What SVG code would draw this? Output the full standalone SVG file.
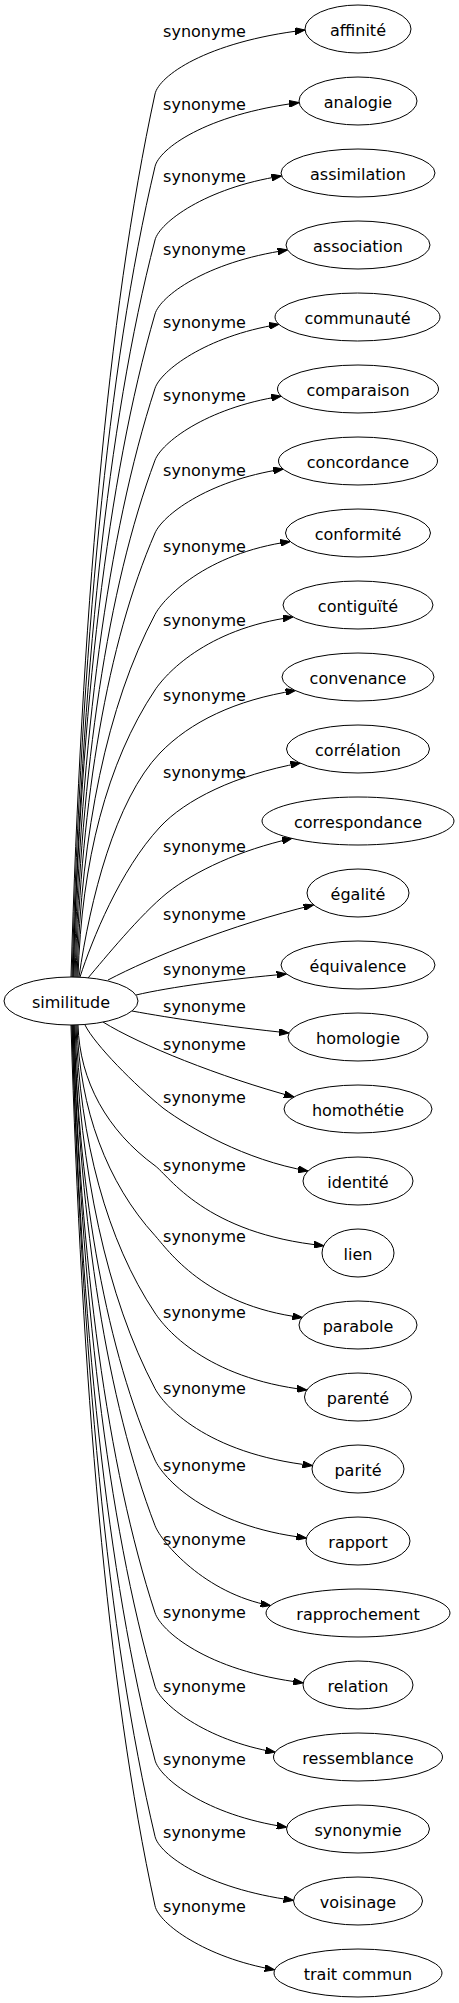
<svg xmlns="http://www.w3.org/2000/svg" width="459" height="2003" viewBox="0 0 459 2003">
<style>
text{font-family:"DejaVu Sans","Liberation Sans",sans-serif;font-size:16px;fill:#000}
.n text,.lbl{text-anchor:middle}
.n ellipse{fill:#fff;stroke:#000;stroke-width:1}
.e path{fill:none;stroke:#000;stroke-width:1;marker-end:url(#arrow)}
</style>
<defs>
<marker id="arrow" markerUnits="userSpaceOnUse" viewBox="0 0 10 7" refX="10" refY="3.5" markerWidth="10" markerHeight="7" orient="auto">
<path d="M0,0 L10,3.5 L0,7 z" fill="#000" stroke="#000" stroke-width="1"/>
</marker>
</defs>
<rect width="459" height="2003" fill="#fff"/>
<g id="connectors" class="e">
<path d="M71,977 C81.6,623.8 107,314.8 155,94 C158.8,76.4 205,42 305,30"/>
<path d="M72,977 C81.7,652.8 107,369.2 155,166.6 C159.1,149.1 205,114.6 299.1,102.6"/>
<path d="M73,977 C81.8,682.2 107,424.3 155,240 C159.5,222.6 205,188 281.5,176"/>
<path d="M73,977 C81,711.8 107,479.8 155,314 C160,296.7 205,262 287.6,250"/>
<path d="M74,977 C81.1,741.5 107,535.5 155,388.3 C160.6,371.2 205,336.3 279,324.3"/>
<path d="M75,977 C81.2,770.3 107,589.4 155,460.2 C161.3,443.3 205,408.2 281.2,396.2"/>
<path d="M76,977 C81.3,799.4 107,644 155,533 C162.1,516.5 205,481 283.2,469"/>
<path d="M77,977 C81.4,832 107,705.1 155,614.5 C163.4,598.6 205,553.5 290.2,541.5"/>
<path d="M78,977 C81.4,862.2 107,761.8 155,690 C165,675 205,629 292.9,617"/>
<path d="M79,977 C90,900 115,800 160,753 C190,722 235,700 295.5,690.5"/>
<path d="M80,977 C92,940 120,870 160,827 C185,800 235,775 300.5,763"/>
<path d="M88,978 C105,958 140,915 167,893 C195,871 240,850 292,838.4"/>
<path d="M108,980 C150,958 230,925 313.5,905"/>
<path d="M136,995 C170,987 230,979 286.6,974"/>
<path d="M132,1011 C170,1018 230,1027 289,1033"/>
<path d="M103,1022 C140,1045 220,1077 294,1097"/>
<path d="M85,1025 C95,1045 135,1085 163,1108 C190,1128 245,1160 308,1171"/>
<path d="M78,1025 C79.7,1081.3 107,1130.5 155,1165.7 C169.5,1176.4 205,1233.7 323.9,1245.7"/>
<path d="M77,1025 C79.5,1109.2 107,1183 155,1235.6 C167.1,1248.9 205,1305.6 302.4,1317.6"/>
<path d="M76,1025 C79.5,1140.2 107,1241 155,1313 C165,1328 205,1378 306.9,1390"/>
<path d="M75,1025 C79.4,1170.4 107,1297.7 155,1388.6 C163.4,1404.5 205,1453.6 312.5,1465.6"/>
<path d="M74,1025 C79.2,1199 107,1351.3 155,1460 C162.3,1476.5 205,1526 306.4,1538"/>
<path d="M74,1025 C80,1225.2 107,1400.5 155,1525.6 C161.4,1542.4 205,1593.6 270.6,1605.6"/>
<path d="M73,1025 C80.1,1260.1 107,1465.9 155,1612.8 C160.6,1629.9 205,1670.8 303.2,1682.8"/>
<path d="M73,1025 C80.9,1289.5 107,1520.9 155,1686.2 C160,1703.5 205,1740.2 275.2,1752.2"/>
<path d="M72,1025 C80.8,1319.1 107,1576.4 155,1760.2 C159.5,1777.6 205,1815.2 286.8,1827.2"/>
<path d="M72,1025 C81.7,1349.6 107,1633.6 155,1836.4 C159.1,1853.9 205,1888.4 293.5,1900.4"/>
<path d="M71,1025 C81.6,1377.3 107,1685.6 155,1905.8 C158.8,1923.4 205,1957.8 274.7,1969.8"/>
<text class="lbl" x="204.5" y="36.5">synonyme</text>
<text class="lbl" x="204.5" y="109.5">synonyme</text>
<text class="lbl" x="204.5" y="181.5">synonyme</text>
<text class="lbl" x="204.5" y="254.5">synonyme</text>
<text class="lbl" x="204.5" y="327.5">synonyme</text>
<text class="lbl" x="204.5" y="401">synonyme</text>
<text class="lbl" x="204.5" y="475.5">synonyme</text>
<text class="lbl" x="204.5" y="551.5">synonyme</text>
<text class="lbl" x="204.5" y="626">synonyme</text>
<text class="lbl" x="204.5" y="701">synonyme</text>
<text class="lbl" x="204.5" y="777.5">synonyme</text>
<text class="lbl" x="204.5" y="851.5">synonyme</text>
<text class="lbl" x="204.5" y="919.5">synonyme</text>
<text class="lbl" x="204.5" y="974.5">synonyme</text>
<text class="lbl" x="204.5" y="1011.5">synonyme</text>
<text class="lbl" x="204.5" y="1049.5">synonyme</text>
<text class="lbl" x="204.5" y="1103">synonyme</text>
<text class="lbl" x="204.5" y="1170.5">synonyme</text>
<text class="lbl" x="204.5" y="1242">synonyme</text>
<text class="lbl" x="204.5" y="1318">synonyme</text>
<text class="lbl" x="204.5" y="1394">synonyme</text>
<text class="lbl" x="204.5" y="1470.5">synonyme</text>
<text class="lbl" x="204.5" y="1544.5">synonyme</text>
<text class="lbl" x="204.5" y="1618">synonyme</text>
<text class="lbl" x="204.5" y="1691.5">synonyme</text>
<text class="lbl" x="204.5" y="1764.5">synonyme</text>
<text class="lbl" x="204.5" y="1838">synonyme</text>
<text class="lbl" x="204.5" y="1911.5">synonyme</text>
</g>
<g id="node-similitude" class="n"><ellipse cx="71" cy="1001" rx="67" ry="24"/><text x="71" y="1007.5">similitude</text></g>
<g id="node-affinite" class="n"><ellipse cx="358" cy="29" rx="53" ry="24"/><text x="358" y="35.5">affinité</text></g>
<g id="node-analogie" class="n"><ellipse cx="358" cy="101" rx="59" ry="24"/><text x="358" y="107.5">analogie</text></g>
<g id="node-assimilation" class="n"><ellipse cx="358" cy="173" rx="77" ry="24"/><text x="358" y="179.5">assimilation</text></g>
<g id="node-association" class="n"><ellipse cx="358" cy="245" rx="72" ry="24"/><text x="358" y="251.5">association</text></g>
<g id="node-communaute" class="n"><ellipse cx="357.5" cy="317" rx="82.5" ry="24"/><text x="357.5" y="323.5">communauté</text></g>
<g id="node-comparaison" class="n"><ellipse cx="358" cy="389" rx="80.5" ry="24"/><text x="358" y="395.5">comparaison</text></g>
<g id="node-concordance" class="n"><ellipse cx="358" cy="461" rx="79.5" ry="24"/><text x="358" y="467.5">concordance</text></g>
<g id="node-conformite" class="n"><ellipse cx="358" cy="533" rx="72.5" ry="24"/><text x="358" y="539.5">conformité</text></g>
<g id="node-contiguite" class="n"><ellipse cx="358" cy="605" rx="75" ry="24"/><text x="358" y="611.5">contiguïté</text></g>
<g id="node-convenance" class="n"><ellipse cx="358" cy="677" rx="76" ry="24"/><text x="358" y="683.5">convenance</text></g>
<g id="node-correlation" class="n"><ellipse cx="358" cy="749" rx="71.5" ry="24"/><text x="358" y="755.5">corrélation</text></g>
<g id="node-correspondance" class="n"><ellipse cx="358" cy="821" rx="96" ry="24"/><text x="358" y="827.5">correspondance</text></g>
<g id="node-egalite" class="n"><ellipse cx="358" cy="893" rx="51" ry="24"/><text x="358" y="899.5">égalité</text></g>
<g id="node-equivalence" class="n"><ellipse cx="358" cy="965" rx="77" ry="24"/><text x="358" y="971.5">équivalence</text></g>
<g id="node-homologie" class="n"><ellipse cx="358" cy="1037" rx="70" ry="24"/><text x="358" y="1043.5">homologie</text></g>
<g id="node-homothetie" class="n"><ellipse cx="358" cy="1109" rx="74" ry="24"/><text x="358" y="1115.5">homothétie</text></g>
<g id="node-identite" class="n"><ellipse cx="358" cy="1181" rx="55" ry="24"/><text x="358" y="1187.5">identité</text></g>
<g id="node-lien" class="n"><ellipse cx="358" cy="1253" rx="36" ry="24"/><text x="358" y="1259.5">lien</text></g>
<g id="node-parabole" class="n"><ellipse cx="358" cy="1325" rx="59" ry="24"/><text x="358" y="1331.5">parabole</text></g>
<g id="node-parente" class="n"><ellipse cx="358" cy="1397" rx="53.5" ry="24"/><text x="358" y="1403.5">parenté</text></g>
<g id="node-parite" class="n"><ellipse cx="358" cy="1469" rx="46" ry="24"/><text x="358" y="1475.5">parité</text></g>
<g id="node-rapport" class="n"><ellipse cx="358" cy="1541" rx="52" ry="24"/><text x="358" y="1547.5">rapport</text></g>
<g id="node-rapprochement" class="n"><ellipse cx="358" cy="1613" rx="92" ry="24"/><text x="358" y="1619.5">rapprochement</text></g>
<g id="node-relation" class="n"><ellipse cx="358" cy="1685" rx="55" ry="24"/><text x="358" y="1691.5">relation</text></g>
<g id="node-ressemblance" class="n"><ellipse cx="358" cy="1757" rx="84.5" ry="24"/><text x="358" y="1763.5">ressemblance</text></g>
<g id="node-synonymie" class="n"><ellipse cx="358" cy="1829" rx="71.5" ry="24"/><text x="358" y="1835.5">synonymie</text></g>
<g id="node-voisinage" class="n"><ellipse cx="358" cy="1901" rx="64.5" ry="24"/><text x="358" y="1907.5">voisinage</text></g>
<g id="node-trait-commun" class="n"><ellipse cx="358" cy="1973" rx="84" ry="24"/><text x="358" y="1979.5">trait commun</text></g>
</svg>
